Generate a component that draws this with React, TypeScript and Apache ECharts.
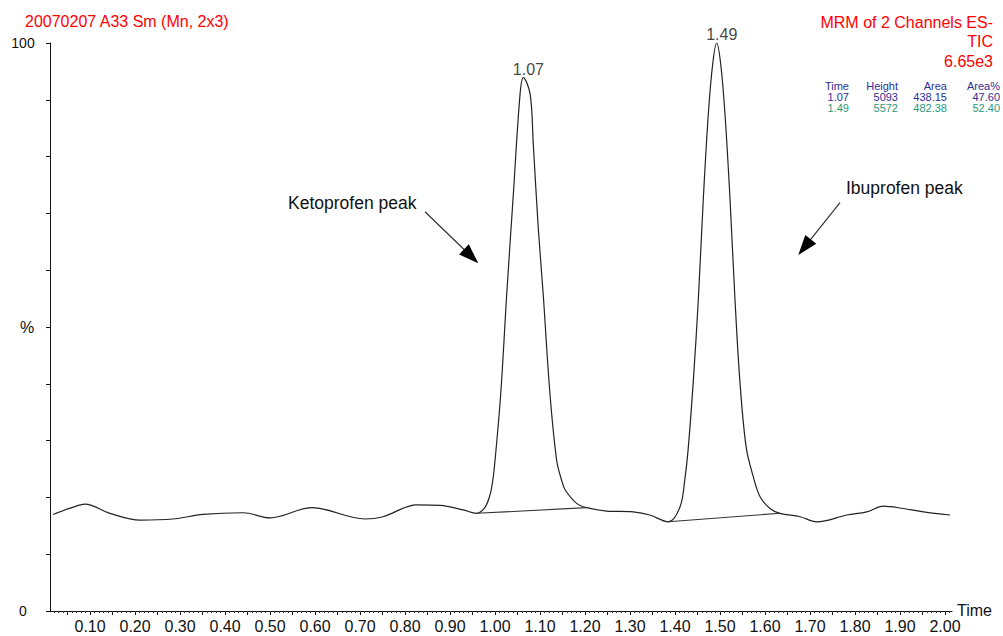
import React, { useEffect, useRef } from "react";
import * as echarts from "echarts";

// ---- data ----
const traceTime = [
  0.018, 0.056, 0.089, 0.144, 0.211, 0.284, 0.351, 0.44, 0.5, 0.593, 0.711, 0.751, 0.826, 0.878, 0.929,
  0.959, 0.978, 0.989, 0.995, 1.0, 1.0127, 1.026, 1.0407, 1.0556, 1.063, 1.078, 1.085, 1.096, 1.107,
  1.122, 1.137, 1.148, 1.156, 1.182, 1.204, 1.248, 1.307, 1.344, 1.385, 1.411, 1.422, 1.4296, 1.4407,
  1.452, 1.463, 1.474, 1.4837, 1.4926, 1.5015, 1.511, 1.522, 1.533, 1.544, 1.558, 1.574, 1.589, 1.611,
  1.633, 1.678, 1.715, 1.782, 1.826, 1.863, 1.907, 1.952, 2.011,
];
const tracePct = [
  17.0, 18.1, 18.8, 17.2, 16.0, 16.2, 17.0, 17.3, 16.4, 18.2, 16.2, 16.6, 18.7, 18.6, 17.8,
  17.2, 18.3, 20.5, 23.0, 26.5, 38.3, 55.8, 73.4, 91.0, 93.9, 91.0, 82.2, 67.5, 55.8,
  38.3, 26.5, 23.0, 21.3, 18.9, 18.2, 17.6, 17.45, 16.9, 15.7, 18.3, 23.3, 28.9, 40.6,
  55.2, 72.8, 87.5, 96.3, 100, 96.3, 87.5, 72.8, 55.2, 40.6, 28.9, 23.6, 20.1, 18.05,
  17.2, 16.6, 15.7, 16.9, 17.45, 18.45, 18.05, 17.45, 16.9,
];

const peakApexTime = [1.063, 1.4926];
const peakApexPct = [93.9, 100];
const peakLabels = ["1.07", "1.49"];

// integration baselines [startTime, startPct, endTime, endPct]
const baselineStartTime = [0.959, 1.385];
const baselineStartPct = [17.2, 15.7];
const baselineEndTime = [1.204, 1.633];
const baselineEndPct = [18.2, 17.2];

const xTickLabels = [0.1, 0.2, 0.3, 0.4, 0.5, 0.6, 0.7, 0.8, 0.9, 1.0, 1.1, 1.2, 1.3, 1.4, 1.5, 1.6, 1.7, 1.8, 1.9, 2.0];
const yTickValues = [0, 10, 20, 30, 40, 50, 60, 70, 80, 90, 100];
const yLabelValues = [0, 100];

const tableHeader = ["Time", "Height", "Area", "Area%"];
const tableRow1 = ["1.07", "5093", "438.15", "47.60"];
const tableRow2 = ["1.49", "5572", "482.38", "52.40"];

const FONT = "'Liberation Sans', Arial, Helvetica, sans-serif";

function arrow(x0: number, y0: number, x1: number, y1: number) {
  const dx = x1 - x0;
  const dy = y1 - y0;
  const len = Math.sqrt(dx * dx + dy * dy);
  const ux = dx / len;
  const uy = dy / len;
  const head = 20;
  const half = 7;
  const bx = x1 - ux * head;
  const by = y1 - uy * head;
  return [
    {
      type: "line",
      shape: { x1: x0, y1: y0, x2: bx + ux * 2, y2: by + uy * 2 },
      style: { stroke: "#333", lineWidth: 1.2 },
    },
    {
      type: "polygon",
      shape: {
        points: [
          [x1, y1],
          [bx - uy * half, by + ux * half],
          [bx + uy * half, by - ux * half],
        ],
      },
      style: { fill: "#000" },
    },
  ];
}

function txt(text: string, x: number, y: number, size: number, color: string, align = "left") {
  return {
    type: "text",
    style: {
      text,
      x,
      y,
      fill: color,
      font: `${size}px ${FONT}`,
      fontSize: size,
      fontFamily: FONT,
      textAlign: align,
      align,
      textVerticalAlign: "middle",
      verticalAlign: "middle",
    },
  };
}

export default function App() {
  const ref = useRef<HTMLDivElement>(null);

  useEffect(() => {
    if (!ref.current) return;
    const chart = echarts.init(ref.current, undefined, { renderer: "svg" });

    const traceData = traceTime.map((t, i) => [t, tracePct[i]]);
    const apexData = peakApexTime.map((t, i) => ({
      value: [t, peakApexPct[i]],
      label: { formatter: peakLabels[i] },
    }));
    const baselineSeries = baselineStartTime.map((t, i) => ({
      type: "line",
      data: [
        [t, baselineStartPct[i]],
        [baselineEndTime[i], baselineEndPct[i]],
      ],
      showSymbol: false,
      silent: true,
      lineStyle: { color: "#333", width: 1.1 },
    }));

    const tableCols = [849, 898, 947, 1000];
    const tableGraphics: any[] = [];
    tableHeader.forEach((h, i) => tableGraphics.push(txt(h, tableCols[i], 86, 11, "#2e2e96", "right")));
    tableRow1.forEach((h, i) => tableGraphics.push(txt(h, tableCols[i], 97, 11, "#2e2e96", "right")));
    tableRow2.forEach((h, i) => tableGraphics.push(txt(h, tableCols[i], 108, 11, "#2a9a80", "right")));

    const option: any = {
      animation: false,
      backgroundColor: "#ffffff",
      textStyle: { fontFamily: FONT },
      grid: { left: 50, right: 51, top: 43, bottom: 25, containLabel: false, outerBoundsMode: "none" },
      xAxis: [
        {
          type: "value",
          min: 0.011,
          max: 2.0155,
          axisLine: { show: true, lineStyle: { color: "#111", width: 1 } },
          axisTick: {
            show: true,
            customValues: xTickLabels.concat([0.05, 0.15, 0.25, 0.35, 0.45, 0.55, 0.65, 0.75, 0.85, 0.95, 1.05, 1.15, 1.25, 1.35, 1.45, 1.55, 1.65, 1.75, 1.85, 1.95]),
            length: 4,
            inside: false,
            lineStyle: { color: "#111" },
          },
          axisLabel: {
            show: true,
            customValues: xTickLabels,
            formatter: (v: number) => v.toFixed(2),
            color: "#111",
            fontSize: 16,
            fontFamily: FONT,
            margin: 7,
          },
          splitLine: { show: false },
        },
        {
          type: "value",
          min: 0.011,
          max: 2.0155,
          position: "bottom",
          axisLine: { show: false },
          axisTick: {
            show: true,
            customValues: Array.from({ length: 200 }, (_, i) => Math.round((0.02 + i * 0.01) * 100) / 100).filter((v) => v <= 2.01),
            length: 2,
            lineStyle: { color: "#333" },
          },
          axisLabel: { show: false },
          splitLine: { show: false },
        },
      ],
      yAxis: {
        type: "value",
        min: 0,
        max: 100,
        axisLine: { show: true, lineStyle: { color: "#111", width: 1 } },
        axisTick: { show: true, customValues: yTickValues, length: 4, lineStyle: { color: "#111" } },
        axisLabel: {
          show: true,
          customValues: yLabelValues,
          align: "center",
          margin: 27,
          color: "#111",
          fontSize: 14,
          fontFamily: FONT,
        },
        splitLine: { show: false },
      },
      series: [
        {
          type: "line",
          data: traceData,
          showSymbol: false,
          smooth: 0.35,
          silent: true,
          lineStyle: { color: "#222", width: 1.2 },
        },
        ...baselineSeries,
        {
          type: "scatter",
          data: apexData,
          symbolSize: 1,
          itemStyle: { color: "rgba(0,0,0,0)" },
          silent: true,
          label: {
            show: true,
            position: "top",
            distance: 0,
            offset: [5, 0],
            color: "#111",
            fontSize: 16,
            fontFamily: FONT,
          },
        },
      ],
      graphic: [
        txt("20070207 A33 Sm (Mn, 2x3)", 25, 21, 16, "#ff0000", "left"),
        txt("MRM of 2 Channels ES-", 993, 22, 16, "#ff0000", "right"),
        txt("TIC", 993, 41, 16, "#ff0000", "right"),
        txt("6.65e3", 993, 61, 16, "#ff0000", "right"),
        ...tableGraphics,
        txt("%", 27, 327, 16, "#111", "center"),
        txt("Time", 957, 610, 16, "#111", "left"),
        txt("Ketoprofen peak", 288, 203, 17.5, "#111", "left"),
        txt("Ibuprofen peak", 846, 188, 17.5, "#111", "left"),
        ...arrow(425, 211.7, 478.3, 263.3),
        ...arrow(840, 202.7, 798.3, 255),
      ],
    };

    chart.setOption(option);
    return () => chart.dispose();
  }, []);

  return (
    <div
      ref={ref}
      style={{ position: "fixed", left: 0, top: 0, width: 1003, height: 636, background: "#fff" }}
    />
  );
}
